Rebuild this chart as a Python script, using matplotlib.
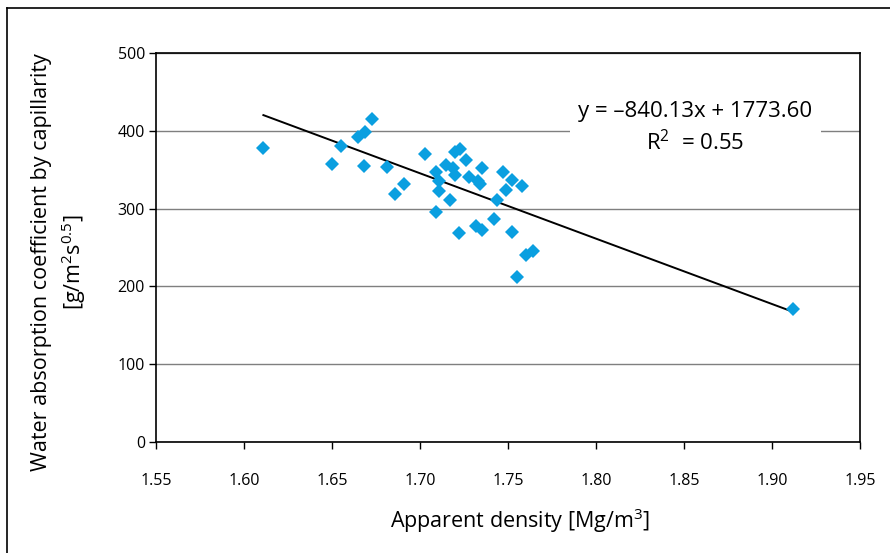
import numpy as np
import matplotlib
matplotlib.use('Agg')
import matplotlib.pyplot as plt
from matplotlib.lines import Line2D

# apparent density [Mg/m3] and water absorption coefficient [g/m2s0.5]
density = [1.611, 1.650, 1.655, 1.665, 1.669, 1.673, 1.668, 1.681, 1.691, 1.686,
           1.703, 1.709, 1.711, 1.711, 1.717, 1.709, 1.715, 1.720, 1.723, 1.719,
           1.720, 1.726, 1.728, 1.735, 1.733, 1.734, 1.722, 1.732, 1.735, 1.742,
           1.744, 1.747, 1.752, 1.749, 1.758, 1.752, 1.760, 1.764, 1.755, 1.912]
absorption = [378, 357, 380, 392, 399, 415, 355, 353, 332, 319,
              370, 347, 335, 322, 311, 296, 356, 373, 376, 352,
              343, 362, 341, 352, 336, 331, 268, 277, 272, 286,
              311, 347, 337, 324, 329, 270, 240, 245, 212, 171]

slope = -840.13
intercept = 1773.60
r_squared = 0.55

x_ticks = [1.55, 1.60, 1.65, 1.70, 1.75, 1.80, 1.85, 1.90, 1.95]
y_ticks = [0, 100, 200, 300, 400, 500]

plt.rcParams['font.family'] = ['Open Sans', 'DejaVu Sans']
plt.rcParams['mathtext.fontset'] = 'custom'
plt.rcParams['mathtext.rm'] = 'Open Sans'
plt.rcParams['mathtext.it'] = 'Open Sans'

fig = plt.figure(figsize=(8.9, 5.53), dpi=100)
ax = fig.add_axes([0.1753, 0.2007, 0.7910, 0.7035])

ax.set_xlim(1.55, 1.95)
ax.set_ylim(0, 500)
ax.set_xticks(x_ticks)
ax.set_xticklabels([f'{t:.2f}' for t in x_ticks])
ax.set_yticks(y_ticks)

ax.grid(axis='y', color='#7f7f7f', linewidth=1.0)
ax.set_axisbelow(True)
for side in ax.spines.values():
    side.set_linewidth(1.2)
    side.set_color('black')
ax.tick_params(direction='out', length=5, width=1.0, labelsize=11.5, pad=17)
ax.tick_params(axis='y', pad=3)

xs = np.array([min(density), max(density)])
ax.plot(xs, slope * xs + intercept, color='black', linewidth=1.4, zorder=3)
ax.plot(density, absorption, linestyle='none', marker='D', markersize=7.3,
        color='#0a9fe0', markeredgewidth=0, zorder=4)

ax.text(0.766, 0.806, f'y = \u2013{abs(slope):.2f}x + {intercept:.2f}\nR$^2$  = {r_squared:.2f}',
        transform=ax.transAxes, ha='center', va='center', fontsize=16,
        linespacing=1.4, zorder=5,
        bbox=dict(facecolor='white', edgecolor='none', pad=6))

ax.set_xlabel('Apparent density [Mg/m$^3$]', fontsize=15.5)
ax.xaxis.set_label_coords(0.517, -0.165)
ax.set_ylabel('Water absorption coefficient by capillarity\n[g/m$^2$s$^{0.5}$]',
              fontsize=15.5, linespacing=1.35)
ax.yaxis.set_label_coords(-0.097, 0.462)

# outer frame
fig.add_artist(Line2D([0.0079, 0.0079], [0, 0.9855], color='black', linewidth=1.2))
fig.add_artist(Line2D([0.0079, 1], [0.9855, 0.9855], color='black', linewidth=1.2))

fig.savefig('out.png', dpi=100)
